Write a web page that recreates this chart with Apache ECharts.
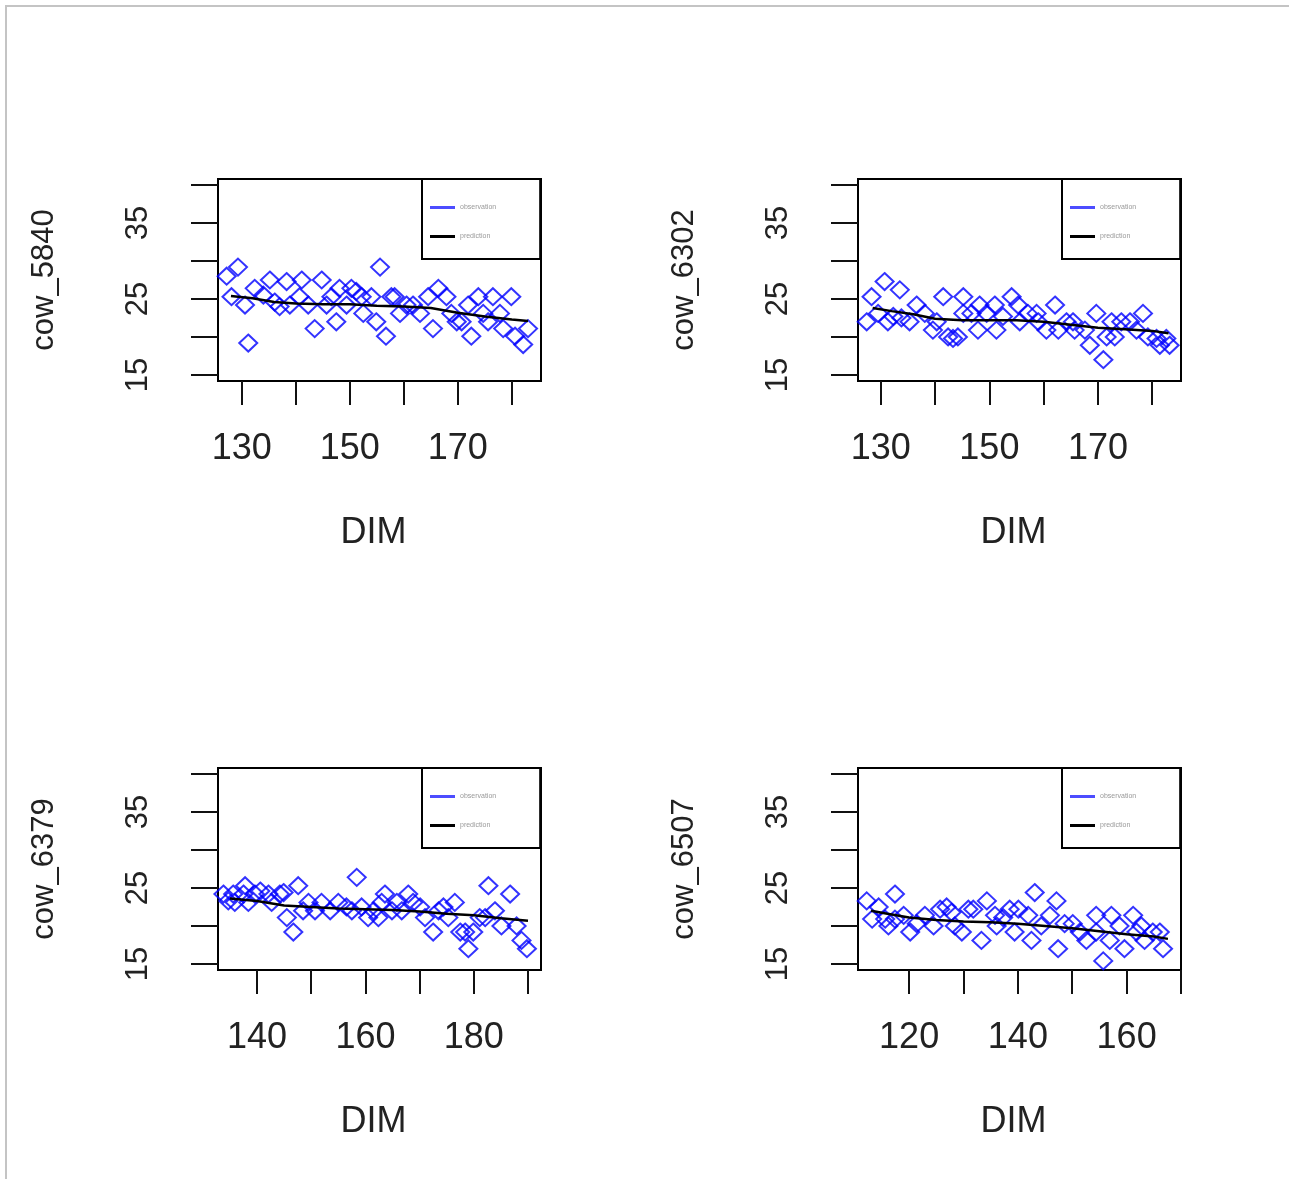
<!DOCTYPE html>
<html>
<head>
<meta charset="utf-8">
<script src="https://cdn.jsdelivr.net/npm/echarts@6/dist/echarts.min.js"></script>
<style>
  html, body { margin: 0; padding: 0; background: #fff; }
  #frame { position: absolute; left: 5px; top: 5px; width: 1282px; height: 1174px;
           border-top: 2px solid #c4c4c4; border-left: 2px solid #c4c4c4; }
  #main { position: absolute; left: 0; top: 0; width: 1295px; height: 1179px; }
</style>
</head>
<body>
<div id="frame"></div>
<div id="main"></div>
<script>
// cow names (one panel each)
var cows = ['cow_5840', 'cow_6302', 'cow_6379', 'cow_6507'];

// observed milk yield per day in milk (DIM)
var dim5840 = [127.2,129.3,128.1,130.6,131.2,132.4,134.0,135.2,136.1,137.0,138.3,138.9,141.1,140.7,142.3,143.5,144.8,145.7,146.6,147.5,148.1,149.4,150.3,151.2,152.2,152.5,154.0,154.9,155.6,156.7,157.7,158.3,159.3,160.5,161.7,163.0,164.5,165.4,166.4,167.9,168.8,169.8,170.7,171.9,172.5,173.8,174.7,175.6,176.5,177.8,178.4,179.9,180.6,182.1,183.0];
var milk5840 = [28.0,29.2,25.3,24.2,19.2,26.4,25.5,27.5,24.6,24.0,27.3,24.2,27.5,25.3,24.2,21.1,27.5,24.2,25.3,22.0,26.4,24.2,26.4,26.0,25.3,23.1,25.3,22.0,29.2,20.1,25.3,25.3,23.1,24.2,24.2,23.1,25.3,21.1,26.4,25.3,23.1,22.0,22.0,24.2,20.1,25.3,23.1,22.0,25.3,23.1,21.1,25.3,20.1,19.0,21.1];

var dim6302 = [127.4,128.3,129.5,130.7,131.3,132.3,133.5,133.8,135.3,136.6,138.1,139.6,140.3,141.5,142.4,143.3,144.2,145.2,145.2,146.7,147.9,148.2,149.5,151.0,151.3,152.5,154.1,155.3,155.6,157.1,158.7,159.0,160.5,162.1,162.7,164.2,165.4,165.7,167.6,168.5,169.7,171.0,171.6,172.5,173.1,174.3,175.9,177.1,178.3,179.2,180.8,181.4,182.6,183.2];
var milk6302 = [22.0,25.3,23.1,27.3,22.0,22.7,26.2,22.5,22.0,24.2,23.1,20.9,22.0,25.3,20.0,19.8,20.0,25.3,23.1,23.1,20.9,24.2,23.1,24.2,20.9,22.7,25.3,24.2,22.0,23.1,23.1,22.0,20.9,24.2,20.9,22.0,22.0,20.9,20.9,18.9,23.1,17.0,20.0,22.0,20.0,22.0,22.0,20.9,23.1,20.0,19.8,18.9,19.8,18.9];

var dim6379 = [133.8,134.7,135.6,135.9,137.5,137.8,138.4,139.6,140.6,142.1,142.7,144.2,144.9,145.5,146.7,147.6,148.5,149.5,150.7,151.9,153.5,155.0,156.5,157.5,158.4,159.3,160.5,161.5,162.4,163.0,163.6,164.9,165.8,166.7,167.9,168.8,170.1,171.0,172.5,173.5,174.4,175.3,176.5,177.5,178.4,179.0,179.9,181.1,182.1,182.7,183.9,185.1,186.7,187.9,188.8,189.8];
var milk6379 = [24.2,23.3,24.2,23.1,24.2,25.3,23.1,24.2,24.6,24.2,23.1,24.2,24.4,21.1,19.2,25.3,22.0,23.1,22.0,23.1,22.0,23.1,22.5,22.0,26.4,22.5,21.1,22.0,21.1,23.1,24.2,22.0,23.1,22.0,24.2,23.1,22.5,21.1,19.2,22.0,22.5,21.1,23.1,19.2,19.2,17.0,19.2,21.1,21.1,25.3,22.0,20.0,24.2,20.0,18.1,17.0];

var dim6507 = [112.2,113.2,114.4,115.6,116.2,117.4,117.4,119.0,120.2,121.4,122.9,124.5,125.7,126.9,127.8,128.4,129.7,130.9,131.8,133.3,134.3,135.8,136.1,137.3,138.5,139.4,140.1,141.9,142.5,143.1,144.3,145.9,147.1,147.4,148.6,150.1,151.4,152.6,154.4,154.4,155.7,156.9,157.2,158.7,159.6,161.2,161.8,162.7,163.3,164.8,166.1,166.7];
var milk6507 = [23.3,20.9,22.5,20.9,20.0,24.2,20.9,21.4,19.2,20.3,21.4,20.0,22.2,22.5,21.8,20.0,19.2,22.2,22.2,18.1,23.3,21.4,20.0,21.1,22.2,19.2,22.2,21.4,18.1,24.4,20.0,21.4,23.3,17.0,20.3,20.3,19.2,18.1,21.4,19.2,15.4,18.1,21.4,20.0,17.0,21.4,19.2,20.0,18.1,19.2,19.2,17.0];

// predicted (fitted) curve
var predDim5840 = [128,132,136,140,145,150,155,160,165,170,175,180,183];
var pred5840 = [25.4,25.1,24.6,24.4,24.3,24.3,24.1,24.0,23.8,23.2,22.7,22.3,22.1];
var predDim6302 = [128.5,132,136,140,145,150,155,160,165,170,175,180,183];
var pred6302 = [23.8,23.4,23.0,22.4,22.2,22.2,22.2,22.0,21.6,21.2,21.0,20.8,20.5];
var predDim6379 = [135,140,145,150,155,160,165,170,175,180,185,190];
var pred6379 = [23.6,23.3,22.7,22.5,22.3,22.2,22.1,21.9,21.6,21.4,21.0,20.7];
var predDim6507 = [113,116,120,125,130,135,140,145,150,155,160,165,167.6];
var pred6507 = [22.0,21.6,21.1,20.8,20.6,20.5,20.3,20.0,19.7,19.3,18.9,18.6,18.3];

// axis ticks / labels
var yTicks = [15, 20, 25, 30, 35, 40];
var yLabels = [15, 25, 35];
var xTicks = [[130,140,150,160,170,180], [130,140,150,160,170,180], [140,150,160,170,180,190], [120,130,140,150,160,170]];
var xLabels = [[130,150,170], [130,150,170], [140,160,180], [120,140,160]];
var xRange = [[125.6,185.4], [125.8,185.3], [132.8,192.4], [110.6,170]];

var obsDims = [dim5840, dim6302, dim6379, dim6507];
var obsMilk = [milk5840, milk6302, milk6379, milk6507];
var predDims = [predDim5840, predDim6302, predDim6379, predDim6507];
var predMilk = [pred5840, pred6302, pred6379, pred6507];

function pairs(xs, ys) {
  var out = [];
  for (var i = 0; i < xs.length; i++) out.push([xs[i], ys[i]]);
  return out;
}

var font = 'Liberation Sans, Arial, sans-serif';
var boxLeft = [218, 858, 218, 858];
var boxTop = [179, 179, 768, 768];

var grids = [], xAxes = [], yAxes = [], series = [], legends = [];
for (var k = 0; k < 4; k++) {
  grids.push({
    left: boxLeft[k], top: boxTop[k], width: 323, height: 202,
    show: true, borderColor: '#000', borderWidth: 2, backgroundColor: 'transparent'
  });
  xAxes.push({
    gridIndex: k, type: 'value', min: xRange[k][0], max: xRange[k][1],
    name: 'DIM', nameLocation: 'middle', nameGap: 134,
    nameTextStyle: { fontFamily: font, fontSize: 36, color: '#222', padding: [0, 12, 0, 0] },
    axisLine: { show: false },
    axisTick: { show: true, inside: false, length: 24, customValues: xTicks[k],
                lineStyle: { color: '#111', width: 2 } },
    axisLabel: { customValues: xLabels[k], margin: 50, fontFamily: font, fontSize: 36, color: '#222' },
    splitLine: { show: false }
  });
  yAxes.push({
    gridIndex: k, type: 'value', min: 14.2, max: 40.8,
    name: cows[k], nameLocation: 'middle', nameRotate: 90, nameGap: 158,
    nameTextStyle: { fontFamily: font, fontSize: 31, color: '#222' },
    axisLine: { show: false },
    axisTick: { show: true, inside: false, length: 27, customValues: yTicks,
                lineStyle: { color: '#111', width: 2 } },
    axisLabel: { customValues: yLabels, rotate: 90, margin: 64, fontFamily: font, fontSize: 31, color: '#222' },
    splitLine: { show: false }
  });
  series.push({
    name: 'observation', type: 'scatter', xAxisIndex: k, yAxisIndex: k,
    symbol: 'diamond', symbolSize: [18, 17],
    itemStyle: { color: 'rgba(0,0,0,0)', borderColor: '#0000ff', borderWidth: 2 },
    data: pairs(obsDims[k], obsMilk[k]), z: 2
  });
  series.push({
    name: 'prediction', type: 'line', xAxisIndex: k, yAxisIndex: k,
    symbol: 'none', smooth: false, color: '#000',
    lineStyle: { color: '#000', width: 2.5 },
    data: pairs(predDims[k], predMilk[k]), z: 3
  });
  legends.push({
    left: boxLeft[k] + 204, top: boxTop[k], orient: 'vertical',
    padding: [25, 44, 19, 8], itemGap: 22, itemWidth: 25, itemHeight: 3,
    borderColor: '#000', borderWidth: 2, backgroundColor: '#fff',
    selectedMode: false,
    textStyle: { fontFamily: font, fontSize: 7, color: '#999', width: 50 },
    data: [
      { name: 'observation', icon: 'rect', itemStyle: { color: '#2020ff', borderWidth: 0 } },
      { name: 'prediction', icon: 'rect', itemStyle: { color: '#000', borderWidth: 0 } }
    ]
  });
}

var chart = echarts.init(document.getElementById('main'), null, { renderer: 'canvas' });
chart.setOption({
  animation: false,
  backgroundColor: 'transparent',
  grid: grids,
  xAxis: xAxes,
  yAxis: yAxes,
  legend: legends,
  series: series
});
</script>
</body>
</html>
